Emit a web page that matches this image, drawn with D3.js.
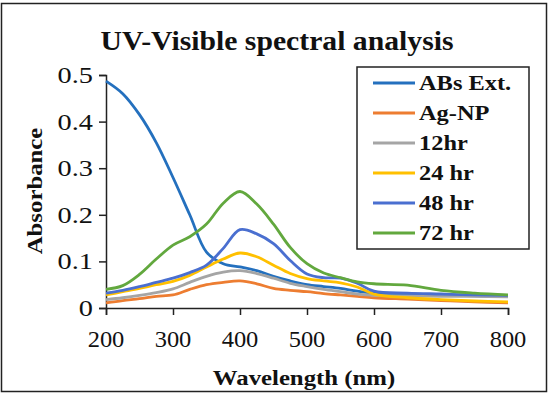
<!DOCTYPE html>
<html>
<head>
<meta charset="utf-8">
<script src="https://d3js.org/d3.v7.min.js"></script>
<style>
  body { margin: 0; background: #fff; }
  text { font-family: "Liberation Serif", "Times New Roman", serif; fill: #111; }
</style>
</head>
<body>
<div id="chart"></div>
<script>
// wavelengths (nm) shared by every series
const wavelengths = [200, 225, 250, 275, 300, 325, 350, 375, 400, 425, 450, 475, 500, 525, 550, 575, 600, 650, 700, 750, 800];

const absExt = [0.487, 0.46, 0.415, 0.355, 0.28, 0.2, 0.12, 0.095, 0.088, 0.08, 0.068, 0.058, 0.05, 0.046, 0.042, 0.036, 0.032, 0.03, 0.028, 0.026, 0.025];
const agNP   = [0.011, 0.016, 0.02, 0.025, 0.028, 0.04, 0.05, 0.055, 0.058, 0.052, 0.042, 0.038, 0.035, 0.031, 0.028, 0.025, 0.022, 0.019, 0.016, 0.013, 0.011];
const hr12   = [0.018, 0.022, 0.027, 0.033, 0.041, 0.055, 0.068, 0.077, 0.08, 0.074, 0.064, 0.053, 0.046, 0.04, 0.035, 0.03, 0.027, 0.026, 0.025, 0.025, 0.024];
const hr24   = [0.028, 0.035, 0.042, 0.05, 0.057, 0.07, 0.088, 0.105, 0.118, 0.11, 0.092, 0.074, 0.063, 0.058, 0.054, 0.045, 0.03, 0.022, 0.018, 0.015, 0.013];
const hr48   = [0.032, 0.038, 0.046, 0.055, 0.064, 0.076, 0.092, 0.128, 0.168, 0.159, 0.138, 0.102, 0.073, 0.065, 0.064, 0.053, 0.036, 0.032, 0.03, 0.028, 0.027];
const hr72   = [0.04, 0.048, 0.072, 0.105, 0.135, 0.153, 0.18, 0.225, 0.25, 0.223, 0.18, 0.13, 0.095, 0.075, 0.065, 0.056, 0.052, 0.049, 0.038, 0.032, 0.028];

const seriesNames = ["ABs Ext.", "Ag-NP", "12hr", "24 hr", "48 hr", "72 hr"];
const seriesColors = ["#2470be", "#ed7d31", "#a5a5a5", "#ffc000", "#4a6fd0", "#62a83e"];
const seriesValues = [absExt, agNP, hr12, hr24, hr48, hr72];

const xTicks = [200, 300, 400, 500, 600, 700, 800];
const yTicks = [0, 0.1, 0.2, 0.3, 0.4, 0.5];

const width = 550, height = 395;

const svg = d3.select("#chart").append("svg")
    .attr("width", width)
    .attr("height", height);

// outer frame
svg.append("rect")
    .attr("x", 1.5).attr("y", 3.5)
    .attr("width", 545).attr("height", 388)
    .attr("fill", "none")
    .attr("stroke", "#222")
    .attr("stroke-width", 1.5);

const xScale = d3.scaleLinear().domain([200, 800]).range([106, 508]);
const yScale = d3.scaleLinear().domain([0, 0.5]).range([308, 75]);

// text helper, glyphs in the picture are a bit wider than Times
function label(x, y, txt, size, opts = {}) {
    const rot = opts.rotate ? ` rotate(${opts.rotate})` : "";
    return svg.append("text")
        .attr("transform", `translate(${x},${y})${rot} scale(${opts.sx || 1},1)`)
        .attr("text-anchor", opts.anchor || "start")
        .attr("font-size", size)
        .attr("font-weight", opts.bold ? "bold" : "normal")
        .text(txt);
}

label(277, 50, "UV-Visible spectral analysis", 27, { anchor: "middle", bold: true, sx: 1.1 });

// axes
const xAxis = d3.axisBottom(xScale).tickValues(xTicks).tickSize(7);
const yAxis = d3.axisLeft(yScale).tickValues(yTicks).tickSize(7);

const gx = svg.append("g").attr("transform", `translate(0,${yScale(0)})`).call(xAxis);
const gy = svg.append("g").attr("transform", `translate(${xScale(200)},0)`).call(yAxis);

[gx, gy].forEach(g => {
    g.select(".domain").attr("stroke", "#222").attr("stroke-width", 1.5);
    g.selectAll(".tick line").attr("stroke", "#222").attr("stroke-width", 1.5);
    g.selectAll(".tick text").remove();
});

xTicks.forEach(t => label(xScale(t), 347, String(t), 24, { anchor: "middle", sx: 1.02 }));
yTicks.forEach(t => label(93, yScale(t) + 8, t === 0 ? "0" : t.toFixed(1), 24, { anchor: "end", sx: 1.18 }));

label(304, 385, "Wavelength (nm)", 21, { anchor: "middle", bold: true, sx: 1.18 });
label(42, 191, "Absorbance", 21, { anchor: "middle", bold: true, rotate: -90, sx: 1.18 });

// lines
const line = d3.line()
    .x((d, i) => xScale(wavelengths[i]))
    .y(d => yScale(d))
    .curve(d3.curveCatmullRom.alpha(0.5));

seriesValues.forEach((vals, k) => {
    svg.append("path")
        .datum(vals)
        .attr("d", line)
        .attr("fill", "none")
        .attr("stroke", seriesColors[k])
        .attr("stroke-width", 2.8)
        .attr("stroke-linejoin", "round");
});

// legend
const lg = svg.append("g");
lg.append("rect")
    .attr("x", 357).attr("y", 67)
    .attr("width", 172).attr("height", 182)
    .attr("fill", "#fff")
    .attr("stroke", "#222")
    .attr("stroke-width", 1.5);

seriesNames.forEach((name, i) => {
    const y = 83 + i * 30;
    lg.append("line")
        .attr("x1", 373).attr("x2", 415)
        .attr("y1", y).attr("y2", y)
        .attr("stroke", seriesColors[i])
        .attr("stroke-width", 2.8);
    label(419, y + 7, name, 20, { bold: true, sx: 1.22 });
});
</script>
</body>
</html>
